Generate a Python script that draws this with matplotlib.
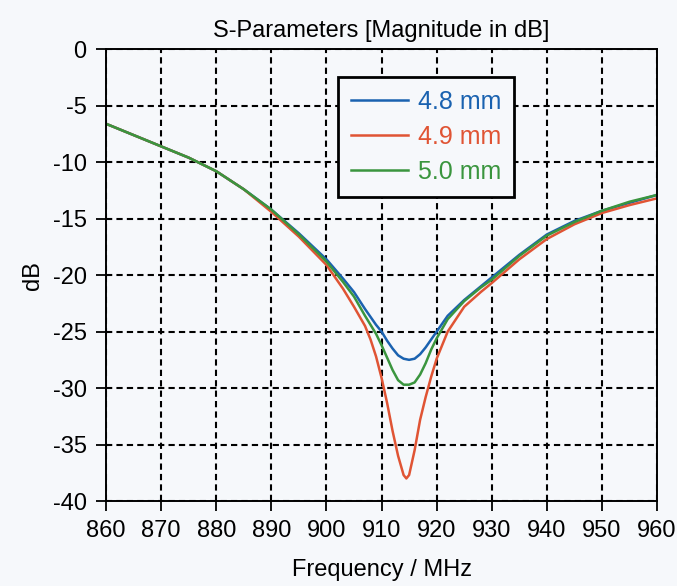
# S-parameter plot: |S11| in dB for three dimensions
import matplotlib.pyplot as plt

plt.rcParams['font.family'] = ['Liberation Sans', 'DejaVu Sans']
plt.rcParams['axes.unicode_minus'] = False

freq_48 = [860, 865, 870, 875, 880, 885, 890, 895, 900, 903, 905, 907, 909, 910, 911,
           912, 913, 914, 915, 916, 917, 918, 919, 920, 922, 925, 928, 930, 935, 940,
           945, 950, 955, 960]
s11_48 = [-6.6, -7.6, -8.6, -9.6, -10.8, -12.4, -14.2, -16.3, -18.6, -20.3, -21.5, -23.0,
          -24.4, -25.0, -25.8, -26.5, -27.1, -27.4, -27.5, -27.4, -27.0, -26.4, -25.7,
          -25.0, -23.6, -22.2, -21.0, -20.2, -18.2, -16.4, -15.2, -14.3, -13.6, -12.9]

freq_49 = [860, 865, 870, 875, 880, 885, 890, 895, 900, 903, 905, 907, 908, 909, 910,
           911, 912, 913, 914, 914.5, 915, 916, 917, 918, 919, 920, 922, 925, 928, 930,
           935, 940, 945, 950, 955, 960]
s11_49 = [-6.6, -7.6, -8.6, -9.6, -10.8, -12.4, -14.4, -16.6, -19.1, -21.2, -22.8, -24.5,
          -25.7, -27.2, -29.1, -31.3, -33.8, -36.0, -37.7, -38.0, -37.7, -35.5, -32.8,
          -30.8, -29.0, -27.4, -25.0, -22.8, -21.5, -20.7, -18.6, -16.8, -15.5, -14.5,
          -13.8, -13.2]

freq_50 = [860, 865, 870, 875, 880, 885, 890, 895, 900, 903, 905, 907, 909, 910, 911,
           912, 913, 914, 915, 916, 917, 918, 919, 920, 922, 925, 928, 930, 935, 940,
           945, 950, 955, 960]
s11_50 = [-6.6, -7.6, -8.6, -9.6, -10.8, -12.4, -14.2, -16.4, -18.8, -20.6, -21.9, -23.6,
          -25.2, -26.2, -27.3, -28.4, -29.3, -29.7, -29.7, -29.5, -28.8, -27.8, -26.6,
          -25.6, -23.9, -22.3, -21.1, -20.4, -18.3, -16.5, -15.3, -14.3, -13.5, -12.9]

labels = ['4.8 mm', '4.9 mm', '5.0 mm']
colors = ['#1a62b0', '#e05434', '#3a953e']

bg = '#f6f8fb'
fig = plt.figure(figsize=(6.77, 5.86), dpi=100, facecolor=bg)
ax = fig.add_axes([0.1566, 0.145, 0.814, 0.771], facecolor=bg)

for fx, fy, lab, c in zip([freq_48, freq_49, freq_50], [s11_48, s11_49, s11_50], labels, colors):
    ax.plot(fx, fy, color=c, lw=1.8, label=lab)

ax.set_xlim(860, 960)
ax.set_ylim(-40, 0)
ax.set_xticks(range(860, 961, 10))
ax.set_yticks(range(-40, 1, 5))
ax.grid(True, color='black', linestyle=(0, (3, 2)), lw=1.5)
ax.tick_params(direction='out', length=7, width=1.3, labelsize=17, pad=7)
for s in ax.spines.values():
    s.set_linewidth(1.4)

ax.set_title('S-Parameters [Magnitude in dB]', fontsize=17, pad=9)
ax.set_xlabel('Frequency / MHz', fontsize=17, labelpad=12)
ax.set_ylabel('dB', fontsize=17, labelpad=6)

leg = ax.legend(loc='upper left', bbox_to_anchor=(0.421, 0.938), fontsize=18,
                handlelength=2.3, handletextpad=0.4, labelspacing=0.45,
                fancybox=False, framealpha=1, facecolor=bg, edgecolor='black',
                borderpad=0.5, borderaxespad=0)
leg.get_frame().set_linewidth(2)
for t, c in zip(leg.get_texts(), colors):
    t.set_color(c)

fig.savefig('out.png', dpi=100, facecolor=bg)
